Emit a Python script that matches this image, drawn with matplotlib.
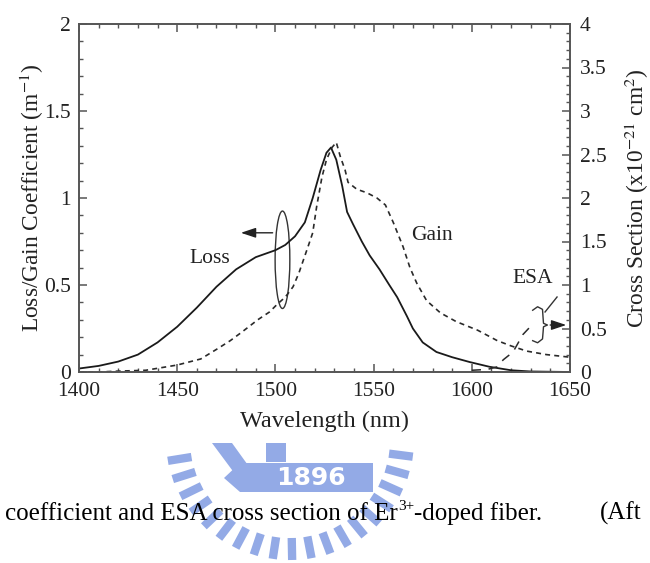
import numpy as np
import matplotlib.pyplot as plt
from matplotlib.patches import Ellipse, Polygon, Rectangle
from matplotlib.ticker import MultipleLocator, FuncFormatter

plt.rcParams['font.family'] = ['Liberation Serif', 'DejaVu Serif']
plt.rcParams['mathtext.fontset'] = 'stix'

# loss coefficient (m^-1), solid curve
wl_loss = [1400, 1410, 1420, 1430, 1440, 1450, 1460, 1470, 1480, 1490, 1500, 1505,
           1510, 1515, 1519, 1523, 1526, 1528.3, 1531, 1534, 1536.5, 1539.5, 1544,
           1548, 1553, 1558, 1562, 1567, 1570, 1575, 1582, 1590, 1599, 1609, 1620,
           1630, 1650]
loss = [0.02, 0.035, 0.06, 0.10, 0.17, 0.26, 0.37, 0.49, 0.59, 0.66, 0.70, 0.73,
        0.78, 0.86, 1.00, 1.16, 1.26, 1.29, 1.22, 1.07, 0.92, 0.85, 0.75,
        0.67, 0.59, 0.50, 0.43, 0.32, 0.25, 0.17, 0.115, 0.085, 0.057, 0.03, 0.01,
        0.003, 0.0]

# gain coefficient (m^-1), dashed curve
wl_gain = [1400, 1410, 1420, 1434, 1450, 1462, 1470, 1477, 1483, 1491, 1497, 1501,
           1505, 1509, 1512, 1516.6, 1519, 1521, 1523.7, 1526, 1528.8, 1531, 1533,
           1535.5, 1537, 1541.5, 1546.6, 1551.7, 1556, 1560, 1565, 1568.5, 1572,
           1577, 1584, 1592, 1603, 1613, 1620, 1628, 1638, 1650]
gain = [0.0, 0.0, 0.005, 0.01, 0.04, 0.075, 0.13, 0.18, 0.23, 0.30, 0.345, 0.39,
        0.43, 0.49, 0.57, 0.72, 0.80, 0.95, 1.12, 1.22, 1.29, 1.32, 1.24,
        1.16, 1.09, 1.05, 1.03, 1.00, 0.96, 0.86, 0.72, 0.60, 0.51,
        0.41, 0.34, 0.29, 0.24, 0.18, 0.15, 0.12, 0.10, 0.085]

# ESA cross section (x1e-21 cm^2), right axis
wl_esa = [1600, 1608, 1613, 1616, 1621, 1626, 1631]
esa = [0.02, 0.03, 0.06, 0.14, 0.23, 0.43, 0.55]

W, H = 650, 563


def px(x, y):
    return x / W, 1 - y / H


fig = plt.figure(figsize=(W / 100, H / 100), dpi=100)

# faint seal behind the caption (only the part below the chart shows)
seal = '#93aae6'
cx, cy = 290, 440
for ang in np.arange(-10, 192, 9):
    t = np.deg2rad(ang)
    x0, y0 = cx + 100 * np.cos(t), cy + 98 * np.sin(t)
    x1, y1 = cx + 124 * np.cos(t), cy + 120 * np.sin(t)
    if min(y0, y1) < 444:
        continue
    fig.add_artist(plt.Line2D([x0 / W, x1 / W], [1 - y0 / H, 1 - y1 / H],
                              color=seal, lw=6, solid_capstyle='butt'))
fig.add_artist(Polygon([px(212, 443), px(232, 443), px(250, 468), px(238, 478)],
                       closed=True, color=seal, lw=0))
fig.add_artist(Rectangle(px(266, 462), 20 / W, 19 / H, color=seal, lw=0))
fig.add_artist(Polygon([px(224, 478), px(240, 463), px(373, 463), px(373, 492),
                        px(240, 492)], closed=True, color=seal, lw=0))
fig.text(*px(311, 478), '1896', color='white', fontsize=18, fontweight='bold',
         family='DejaVu Sans', ha='center', va='center')

ax = fig.add_axes([79 / W, 1 - 372 / H, 491 / W, 348 / H])
ax2 = ax.twinx()

ax.plot(wl_loss, loss, color='#1a1a1a', lw=1.3)
ax.plot(wl_gain, gain, color='#2a2a2a', lw=1.2, ls=(0, (3, 2.5)))
ax2.plot(wl_esa, esa, color='#2a2a2a', lw=1.1, ls=(0, (6, 5)))

ax.set_xlim(1400, 1650)
ax.set_ylim(0, 2)
ax2.set_ylim(0, 4)

ax.xaxis.set_major_locator(MultipleLocator(50))
ax.xaxis.set_minor_locator(MultipleLocator(10))
ax.yaxis.set_major_locator(MultipleLocator(0.5))
ax.yaxis.set_minor_locator(MultipleLocator(0.1))
ax2.yaxis.set_major_locator(MultipleLocator(0.5))
ax2.yaxis.set_minor_locator(MultipleLocator(0.1))
fmt = FuncFormatter(lambda v, p: '%g' % v)
ax.yaxis.set_major_formatter(fmt)
ax2.yaxis.set_major_formatter(fmt)

for a in (ax, ax2):
    for s in a.spines.values():
        s.set_color('#555555')
        s.set_linewidth(1.2)
ax.tick_params(which='both', direction='in', top=True, right=False,
               colors='#555555', labelcolor='#222222', labelsize=15.5)
ax.tick_params(axis='x', pad=7)
ax.tick_params(axis='y', pad=6)
ax.tick_params(which='major', length=6, width=1.1)
ax.tick_params(which='minor', length=3, width=1.0)
ax2.tick_params(which='both', direction='in', colors='#555555',
                labelcolor='#222222', labelsize=15.5, pad=7)
ax2.tick_params(which='major', length=6, width=1.1)
ax2.tick_params(which='minor', length=3, width=1.0)

ax.set_xlabel('Wavelength (nm)', fontsize=17.5, labelpad=7, color='#222222')
ax.set_ylabel('Loss/Gain Coefficient (m$^{-1}$)', fontsize=16.8, labelpad=-1.5,
              color='#222222')
ax2.set_ylabel('Cross Section (x10$^{-21}$ cm$^{2}$)', fontsize=16.8,
               labelpad=12, color='#222222')

# curve labels and markers
ax.text(1466.7, 0.655, 'Loss', fontsize=15.5, ha='center', va='center', color='#222')
ax.text(1579.7, 0.787, 'Gain', fontsize=15.5, ha='center', va='center', color='#222')
ax.text(1631, 0.54, 'ESA', fontsize=15.5, ha='center', va='center', color='#222')

ax.add_patch(Ellipse((1503.6, 0.645), 7.5, 0.56, fill=False, lw=1.0,
                     color='#333333'))
ax.annotate('', xy=(1481, 0.80), xytext=(1500, 0.80),
            arrowprops=dict(arrowstyle='-|>,head_length=0.9,head_width=0.3',
                            color='#222222', lw=1.0))

brace_x = [1631, 1633.5, 1636, 1636.3, 1636.5, 1638.5, 1636.5, 1636.3, 1636, 1633.5, 1631]
brace_y = [0.355, 0.375, 0.36, 0.31, 0.28, 0.27, 0.26, 0.23, 0.19, 0.168, 0.18]
ax.plot(brace_x, brace_y, color='#333333', lw=1.0)
ax.plot([1643.4, 1637.3], [0.431, 0.345], color='#333333', lw=1.0)
ax.annotate('', xy=(1649.5, 0.27), xytext=(1638.5, 0.27),
            arrowprops=dict(arrowstyle='-|>,head_length=0.9,head_width=0.3',
                            color='#222222', lw=1.0))

# caption line, superscript charge set as its own small text
cap = fig.text(*px(5, 520), 'coefficient and ESA cross section of Er',
               fontsize=18, va='baseline', ha='left', color='black')
fig.canvas.draw()
bb = cap.get_window_extent()
sup = fig.text(bb.x1 / W + 0.5 / W, 1 - 510 / H, '3+', fontsize=11,
               va='baseline', ha='left', color='black')
bb2 = sup.get_window_extent(renderer=fig.canvas.get_renderer())
fig.text(bb2.x1 / W, 1 - 520 / H, '-doped fiber.', fontsize=18,
         va='baseline', ha='left', color='black')
fig.text(*px(600, 520), '(Aft', fontsize=18, va='baseline', ha='left', color='black')

fig.savefig('out.png', dpi=100)
